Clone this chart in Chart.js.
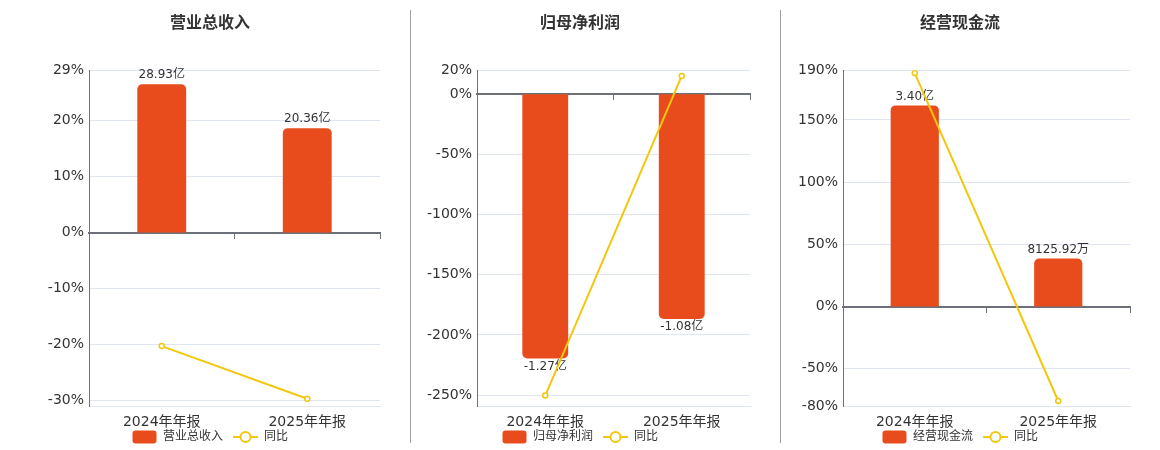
<!DOCTYPE html>
<html>
<head>
<meta charset="utf-8">
<script src="https://cdn.jsdelivr.net/npm/chart.js@4"></script>
<style>
    html, body { margin: 0; padding: 0; background: #fff; }
    body { width: 1160px; height: 450px; position: relative; overflow: hidden; }
    .panel { position: absolute; top: 0; height: 453px; }
    .divider { position: absolute; top: 10px; width: 1px; height: 433px; background: #a0a0a0; }
</style>
</head>
<body>
<div class="panel" style="left:0;width:420px"><canvas id="revChart"></canvas></div>
<div class="panel" style="left:400px;width:360px"><canvas id="profitChart"></canvas></div>
<div class="panel" style="left:780px;width:360px"><canvas id="cashChart"></canvas></div>
<div class="divider" style="left:410px"></div>
<div class="divider" style="left:780px"></div>
<script>
// Data
const periods = ['2024年年报', '2025年年报'];

// 营业总收入 (亿)
const revenueValues = [28.93, 20.36];
const revenueYoy = [-20.3, -29.7];
const revenueTicks = [29, 20, 10, 0, -10, -20, -30];
const revenueRange = [-31, 29];

// 归母净利润 (亿)
const profitValues = [-1.27, -1.08];
const profitYoy = [-250.3, 15.2];
const profitTicks = [20, 0, -50, -100, -150, -200, -250];
const profitRange = [-259, 20];

// 经营现金流 (亿)
const cashValues = [3.40, 0.812592];
const cashYoy = [187.7, -76.0];
const cashTicks = [190, 150, 100, 50, 0, -50, -80];
const cashRange = [-80, 190];

const FONT = '"DejaVu Sans", "Noto Sans CJK SC", sans-serif';
const BAR_COLOR = '#e84c1c';
const LINE_COLOR = '#f3c70c';
const GRID_COLOR = '#e0e6f1';
const AXIS_COLOR = '#6e7079';

// legend icons
function makeBarIcon() {
    const c = document.createElement('canvas');
    c.width = 25; c.height = 14;
    const g = c.getContext('2d');
    g.fillStyle = BAR_COLOR;
    g.beginPath();
    g.roundRect(0.5, 0.5, 24, 13, 3);
    g.fill();
    return c;
}
function makeLineIcon() {
    const c = document.createElement('canvas');
    c.width = 25; c.height = 14;
    const g = c.getContext('2d');
    g.strokeStyle = LINE_COLOR;
    g.lineWidth = 2;
    g.beginPath();
    g.moveTo(0, 7); g.lineTo(25, 7);
    g.stroke();
    g.fillStyle = '#fff';
    g.beginPath();
    g.arc(12.5, 7, 5, 0, Math.PI * 2);
    g.fill();
    g.stroke();
    return c;
}
const barIcon = makeBarIcon();
const lineIcon = makeLineIcon();

function formatAmount(v) {
    if (Math.abs(v) < 1) return (v * 10000).toFixed(2) + '万';
    return v.toFixed(2) + '亿';
}

// draws the amount over / under each bar
const barLabels = {
    id: 'barLabels',
    afterDatasetDraw(chart, args) {
        if (args.index !== 0) return;
        const ctx = chart.ctx;
        const values = chart.data.datasets[0].data;
        ctx.save();
        ctx.font = '12px ' + FONT;
        ctx.fillStyle = '#333';
        ctx.textAlign = 'center';
        args.meta.data.forEach((bar, i) => {
            const v = values[i];
            if (v >= 0) {
                ctx.textBaseline = 'bottom';
                ctx.fillText(formatAmount(v), bar.x, bar.y - 3);
            } else {
                ctx.textBaseline = 'top';
                ctx.fillText(formatAmount(v), bar.x, bar.y + 2);
            }
        });
        ctx.restore();
    }
};

function buildChart(id, title, values, yoy, ticks, range, barScale, leftWidth, rightWidth) {
    const pctMin = range[0];
    const pctMax = range[1];
    return new Chart(document.getElementById(id), {
        type: 'bar',
        data: {
            labels: periods,
            datasets: [{
                label: title,
                data: values,
                yAxisID: 'y1',
                backgroundColor: BAR_COLOR,
                borderRadius: 5,
                barPercentage: 0.336,
                categoryPercentage: 1,
                order: 1
            }, {
                type: 'line',
                label: '同比',
                data: yoy,
                yAxisID: 'y',
                borderColor: LINE_COLOR,
                borderWidth: 2,
                tension: 0,
                pointRadius: 2.5,
                pointBorderWidth: 1.5,
                pointBackgroundColor: '#fff',
                pointBorderColor: LINE_COLOR,
                order: 0
            }]
        },
        options: {
            responsive: true,
            maintainAspectRatio: false,
            animation: false,
            layout: { padding: 0 },
            scales: {
                x: {
                    offset: true,
                    grid: { display: false, drawTicks: false },
                    border: { display: true, color: GRID_COLOR, width: 1 },
                    // mirrored so the labels are not clipped to the short axis box
                    ticks: { mirror: true, color: '#333', padding: -24.4, font: { family: FONT, size: 14 } },
                    afterFit: (scale) => { scale.height = 15; }
                },
                x2: {
                    type: 'category',
                    labels: periods,
                    position: { y: 0 },
                    offset: true,
                    z: 1,
                    grid: { offset: true, drawOnChartArea: false, drawTicks: true, tickLength: 5, color: AXIS_COLOR },
                    border: { display: true, color: AXIS_COLOR, width: 2 },
                    ticks: { display: false }
                },
                y: {
                    position: 'left',
                    min: pctMin,
                    max: pctMax,
                    afterBuildTicks: (scale) => { scale.ticks = ticks.map(v => ({ value: v })); },
                    afterFit: (scale) => { scale.width = leftWidth; },
                    grid: {
                        drawTicks: false,
                        color: (c) => c.tick && c.tick.value === 0 ? 'rgba(0,0,0,0)' : GRID_COLOR
                    },
                    border: { display: true, color: AXIS_COLOR, width: 1 },
                    ticks: {
                        padding: 5,
                        color: '#333',
                        font: { family: FONT, size: 14 },
                        callback: (v) => v + '%'
                    }
                },
                y1: {
                    position: 'right',
                    min: pctMin / barScale,
                    max: pctMax / barScale,
                    afterFit: (scale) => { scale.width = rightWidth; },
                    grid: { display: false },
                    border: { display: false },
                    ticks: { display: false }
                }
            },
            plugins: {
                title: {
                    display: true,
                    text: title,
                    color: '#333',
                    font: { family: FONT, size: 16, weight: 'bold' },
                    padding: { top: 14, bottom: 37 }
                },
                legend: {
                    position: 'bottom',
                    labels: {
                        usePointStyle: true,
                        pointStyleWidth: 25,
                        boxHeight: 14,
                        padding: 10,
                        color: '#333',
                        font: { family: FONT, size: 12 },
                        generateLabels: (chart) => {
                            const items = Chart.defaults.plugins.legend.labels.generateLabels(chart);
                            items.sort((a, b) => a.datasetIndex - b.datasetIndex);
                            items.forEach((it) => { it.pointStyle = it.datasetIndex === 0 ? barIcon : lineIcon; });
                            return items;
                        }
                    }
                },
                tooltip: { enabled: false }
            }
        },
        plugins: [barLabels]
    });
}

document.addEventListener('DOMContentLoaded', function() {
    buildChart('revChart', '营业总收入', revenueValues, revenueYoy, revenueTicks, revenueRange, 26.5 / 28.93, 89, 40);
    buildChart('profitChart', '归母净利润', profitValues, profitYoy, profitTicks, profitRange, 219.5 / 1.27, 77, 10);
    buildChart('cashChart', '经营现金流', cashValues, cashYoy, cashTicks, cashRange, 161.7 / 3.40, 63, 10);
});
</script>
</body>
</html>
